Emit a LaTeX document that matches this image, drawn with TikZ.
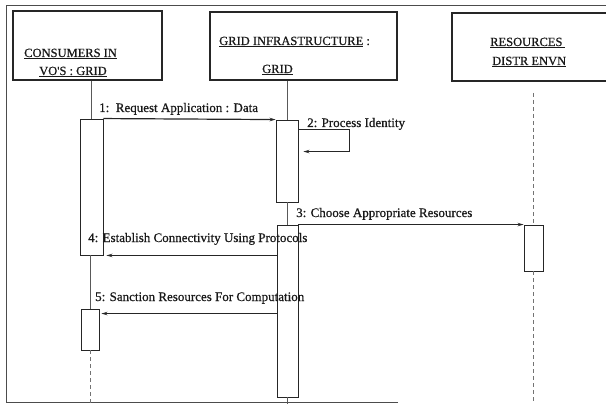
\documentclass[tikz,border=0pt]{standalone}
\usepackage{fontspec}
\setmainfont{Liberation Serif}
\newfontfamily\heavyserif[FakeBold=0.7]{Liberation Serif}
\usetikzlibrary{arrows.meta,calc}
\begin{document}
\begin{tikzpicture}[x=1pt,y=-1pt,
  frame/.style={draw=black!70,line width=0.9pt},
  head/.style={draw=black!85,line width=1.3pt,rectangle,inner sep=0pt},
  act/.style={draw=black!85,line width=0.9pt,fill=white,rectangle,inner sep=0pt},
  life/.style={draw=black!65,line width=0.8pt},
  lifedash/.style={draw=black!55,line width=1pt,dash pattern=on 4pt off 3pt},
  msg/.style={draw=black!85,line width=1.2pt,-{Stealth[length=6pt,width=3.5pt]}},
  htext/.style={anchor=base west,inner sep=0pt,font=\heavyserif\fontsize{12.5}{14}\selectfont,text=black!90},
  mtext/.style={anchor=base west,inner sep=0pt,font=\heavyserif\fontsize{13}{15}\selectfont,text=black!90}]
\useasboundingbox (0,0) rectangle (606,404);
\clip (0,0) rectangle (606,404);

% outer frame
\draw[frame] (398,402) -- (6,402) -- (6,5) -- (606,5);

% object heads
\node[head,minimum width=149pt,minimum height=69pt] (H1) at (87.5,45.5) {};
\node[head,minimum width=187pt,minimum height=68pt] (H2) at (303.5,46) {};
\node[head,minimum width=173pt,minimum height=68pt] (H3) at (538.5,47) {};

\node[htext] (h1a) at (24,57) {\underline{CONSUMERS IN}};
\node[htext] (h1b) at (39,75) {\underline{VO'S : GRID}};
\node[htext] (h2a) at (219,45) {\underline{GRID INFRASTRUCTURE} :};
\node[htext] (h2b) at (262,73) {\underline{GRID}};
\node[htext] (h3a) at (490,46) {\underline{RESOURCES\,}};
\node[htext] (h3b) at (492,65) {\underline{DISTR ENVN}};

% activation bars
\coordinate (bottom) at (0,404);
\coordinate (rtop) at (0,93);
\node[act,minimum width=23pt,minimum height=136pt] (A1) at (91.5,187) {};
\node[act,minimum width=18pt,minimum height=41pt] (A2) at (90,329.5) {};
\node[act,minimum width=22pt,minimum height=82pt] (G1) at (287,161) {};
\node[act,minimum width=21pt,minimum height=172pt] (G2) at (287.5,311) {};
\node[act,minimum width=19pt,minimum height=46pt] (R1) at (533.5,248) {};

% lifelines
\draw[life] (A1.north |- H1.south) -- (A1.north);
\draw[life] (A2.north |- A1.south) -- (A2.north);
\draw[lifedash] (A2.south) -- (A2.south |- bottom);
\draw[life] (G1.north |- H2.south) -- (G1.north);
\draw[life] (G2.north |- G1.south) -- (G2.north);
\draw[life] (G2.south) -- (G2.south |- bottom);
\draw[lifedash] (R1.north |- rtop) -- (R1.north);
\draw[lifedash] (R1.south) -- (R1.south |- bottom);

% messages
\draw[msg] (A1.north east) -- (G1.north west);
\coordinate (s1) at ($(G1.north east)+(0,10)$);
\coordinate (s2) at ($(G1.north east)+(0,32)$);
\draw[msg,shorten >=5pt] (s1) -- ++(51,0) |- (s2);
\draw[msg] (G2.north east) -- (R1.north west);
\draw[msg,shorten >=3pt] (G2.west |- A1.south) -- (A1.south east);
\coordinate (m5) at ($(A2.north east)+(0,5)$);
\draw[msg,shorten >=2pt] (G2.west |- m5) -- (m5);

% message labels
\node[mtext] (l1) at (99,112) {1:~~Request Application : Data};
\node[mtext] (l2) at (307,127) {2: Process Identity};
\node[mtext] (l3) at (296,217) {3: Choose Appropriate Resources};
\node[mtext] (l4) at (88,242) {4: Establish Connectivity Using Protocols};
\node[mtext] (l5) at (95,301) {5: Sanction Resources For Computation};
\end{tikzpicture}
\end{document}
